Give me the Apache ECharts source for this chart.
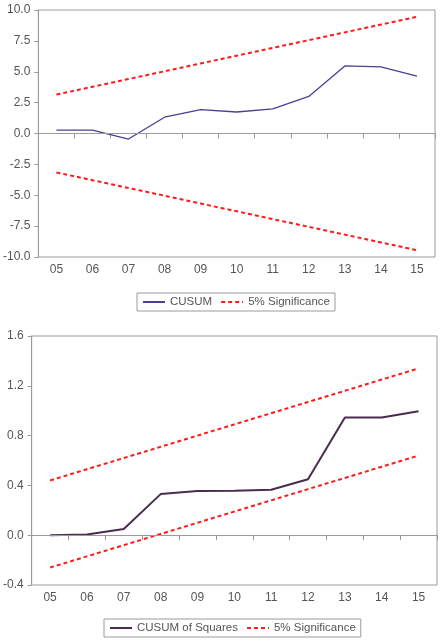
<!DOCTYPE html>
<html>
<head>
<meta charset="utf-8">
<script src="https://cdn.jsdelivr.net/npm/echarts@6/dist/echarts.min.js"></script>
<style>
  html, body { margin: 0; padding: 0; background: #fff; }
  #main { width: 445px; height: 644px; }
</style>
</head>
<body>
<div id="main"></div>
<script>
  // 横坐标（年份）
  var years = ['05', '06', '07', '08', '09', '10', '11', '12', '13', '14', '15'];

  // 上图：CUSUM
  var cusum = [0.28, 0.28, -0.45, 1.32, 1.93, 1.74, 2.0, 3.0, 5.47, 5.39, 4.65];
  var cusumUpper = [3.15, 3.78, 4.41, 5.04, 5.67, 6.3, 6.93, 7.56, 8.19, 8.82, 9.45];
  var cusumLower = [-3.15, -3.78, -4.41, -5.04, -5.67, -6.3, -6.93, -7.56, -8.19, -8.82, -9.45];

  // 下图：CUSUM of Squares
  var cusumSq = [0.0, 0.005, 0.05, 0.33, 0.355, 0.357, 0.365, 0.45, 0.945, 0.945, 0.995];
  var sqUpper = [0.44, 0.53, 0.62, 0.71, 0.8, 0.89, 0.98, 1.07, 1.16, 1.25, 1.34];
  var sqLower = [-0.26, -0.17, -0.08, 0.01, 0.1, 0.19, 0.28, 0.37, 0.46, 0.55, 0.64];

  var textColor = '#555';
  var lineGray = '#9a9a9a';
  var red = '#ff1a1a';
  var font = 'Liberation Sans, Arial, sans-serif';

  function xAxisOf(gridIndex) {
    return {
      type: 'category',
      gridIndex: gridIndex,
      data: years,
      boundaryGap: true,
      axisLine: { lineStyle: { color: lineGray } },
      axisTick: { show: true, length: 5, inside: false, lineStyle: { color: lineGray } },
      axisLabel: { color: textColor, fontSize: 12, fontFamily: font, margin: 7 },
      splitLine: { show: false }
    };
  }

  function yAxisOf(gridIndex, min, max, interval) {
    return {
      type: 'value',
      gridIndex: gridIndex,
      min: min,
      max: max,
      interval: interval,
      axisLine: { show: true, lineStyle: { color: lineGray } },
      axisTick: { show: true, length: 4, lineStyle: { color: lineGray } },
      axisLabel: {
        color: textColor, fontSize: 12, fontFamily: font, margin: 8,
        formatter: function (v) { return v.toFixed(1); }
      },
      splitLine: { show: false }
    };
  }

  // 零线
  var zeroLine = {
    silent: true,
    symbol: 'none',
    label: { show: false },
    lineStyle: { color: lineGray, type: 'solid', width: 1 },
    data: [{ yAxis: 0 }]
  };

  var dashed = { color: red, width: 2, type: [4, 3] };

  function legendOf(names, left, top) {
    return {
      data: names,
      left: left, top: top,
      itemWidth: 22, itemHeight: 10, itemGap: 8,
      padding: [3, 5, 3, 5],
      borderColor: lineGray, borderWidth: 1, borderRadius: 0,
      itemStyle: { opacity: 0 },
      textStyle: { color: textColor, fontSize: 11.5, fontFamily: font },
      formatter: function (name) { return name.trim(); },
      selectedMode: false
    };
  }

  var myChart = echarts.init(document.getElementById('main'));

  var option = {
    backgroundColor: '#fff',
    animation: false,
    grid: [
      { left: 37, right: 10, top: 10, height: 247, show: true, borderColor: lineGray, borderWidth: 1 },
      { left: 31, right: 8, top: 336, height: 249, show: true, borderColor: lineGray, borderWidth: 1 }
    ],
    //图例
    legend: [
      legendOf(['CUSUM', '5% Significance'], 137, 293),
      legendOf(['CUSUM of Squares', '5% Significance '], 104, 619)
    ],
    xAxis: [xAxisOf(0), xAxisOf(1)],
    yAxis: [yAxisOf(0, -10, 10, 2.5), yAxisOf(1, -0.4, 1.6, 0.4)],
    series: [
      {
        name: 'CUSUM', type: 'line', xAxisIndex: 0, yAxisIndex: 0,
        data: cusum, symbol: 'none',
        lineStyle: { color: '#4a3f92', width: 1.3 }, itemStyle: { color: '#4a3f92' },
        markLine: zeroLine
      },
      {
        name: '5% Significance', type: 'line', xAxisIndex: 0, yAxisIndex: 0,
        data: cusumUpper, symbol: 'none',
        lineStyle: dashed, itemStyle: { color: red }
      },
      {
        name: '5% Significance', type: 'line', xAxisIndex: 0, yAxisIndex: 0,
        data: cusumLower, symbol: 'none',
        lineStyle: dashed, itemStyle: { color: red }
      },
      {
        name: 'CUSUM of Squares', type: 'line', xAxisIndex: 1, yAxisIndex: 1,
        data: cusumSq, symbol: 'none',
        lineStyle: { color: '#4a2c4f', width: 2 }, itemStyle: { color: '#4a2c4f' },
        markLine: zeroLine
      },
      {
        name: '5% Significance ', type: 'line', xAxisIndex: 1, yAxisIndex: 1,
        data: sqUpper, symbol: 'none',
        lineStyle: dashed, itemStyle: { color: red }
      },
      {
        name: '5% Significance ', type: 'line', xAxisIndex: 1, yAxisIndex: 1,
        data: sqLower, symbol: 'none',
        lineStyle: dashed, itemStyle: { color: red }
      }
    ]
  };

  myChart.setOption(option);
</script>
</body>
</html>
